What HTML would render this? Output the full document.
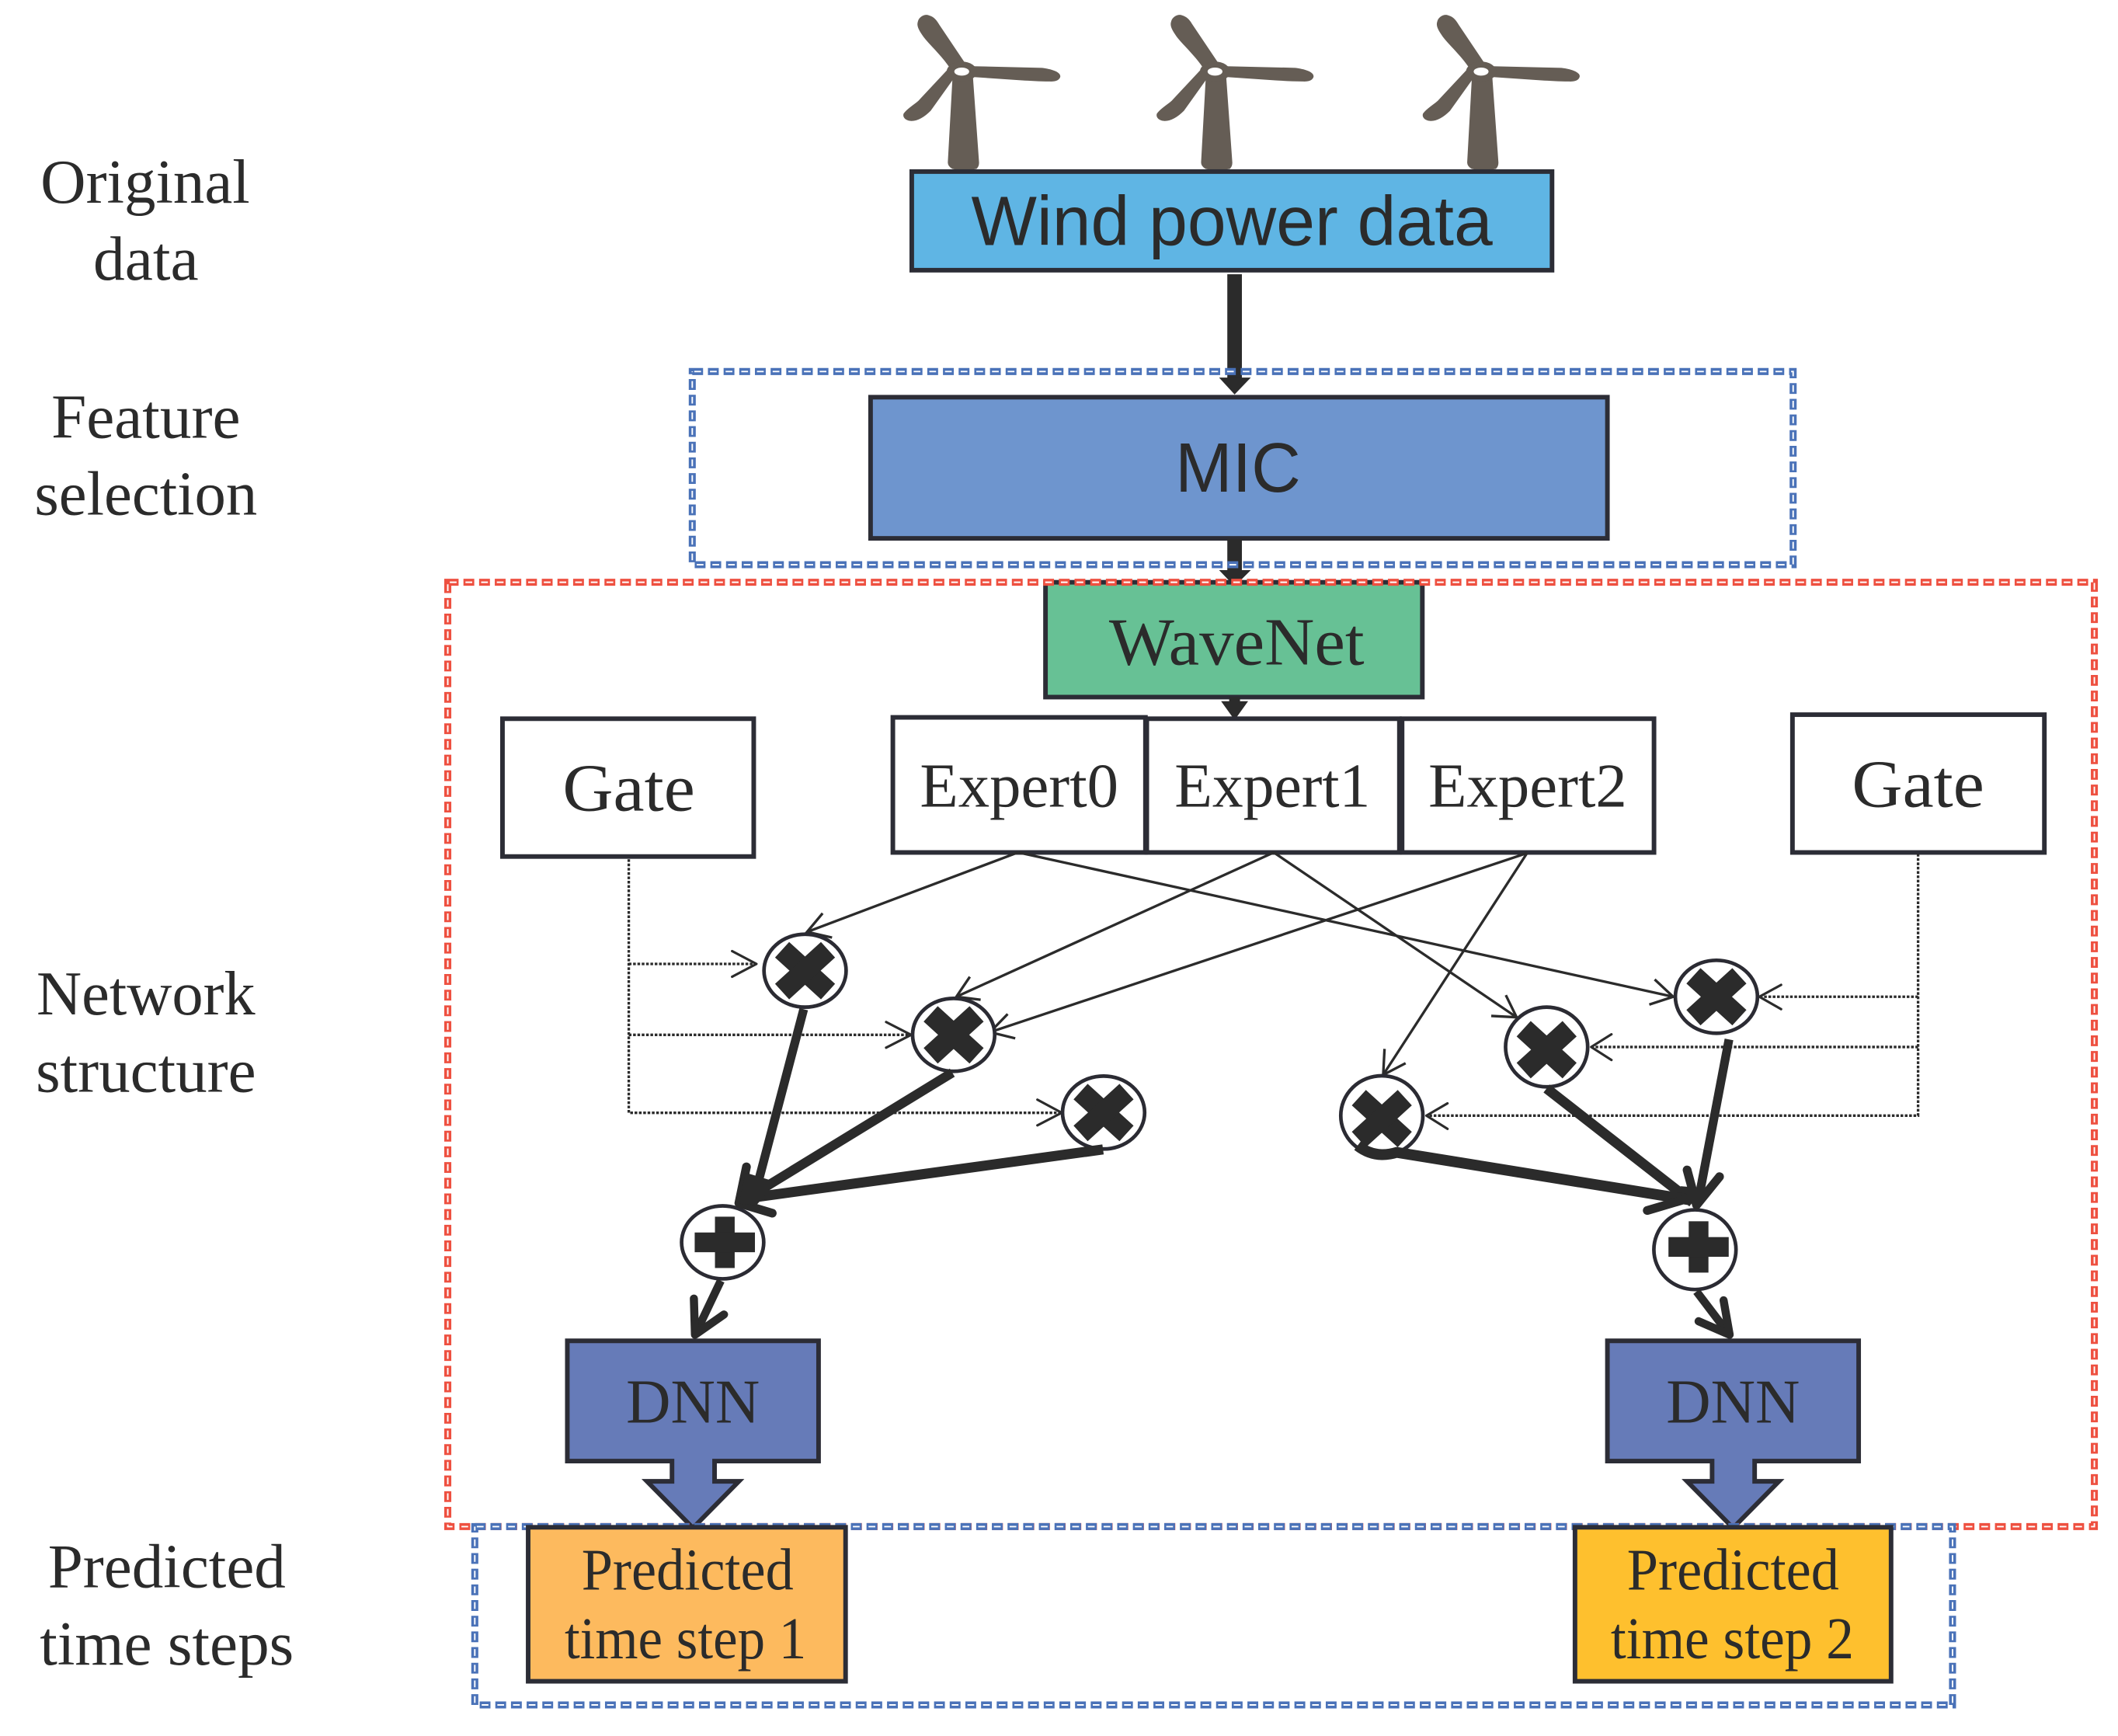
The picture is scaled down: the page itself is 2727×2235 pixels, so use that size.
<!DOCTYPE html>
<html><head><meta charset="utf-8"><style>
html,body{margin:0;padding:0;background:#fff}
svg{display:block}
.s{font-family:"Liberation Serif",serif;fill:#2b2b2b;text-anchor:middle}
.a{font-family:"Liberation Sans",sans-serif;fill:#2b2b2b;text-anchor:middle}
.b{stroke:#2c2d36;stroke-width:3.4}
.thin{stroke:#2b2b2b;stroke-width:1.9;fill:none}
.dot{stroke:#2b2b2b;stroke-width:1.9;fill:none;stroke-dasharray:2 1.2}
.th{stroke:#2b2b2b;fill:none;stroke-linecap:round;stroke-linejoin:round}
.c{fill:#fff;stroke:#2b2b33;stroke-width:2.7}
.x{stroke:#2b2b2b;stroke-width:15.5;stroke-linecap:butt}
</style></head><body>
<svg xmlns="http://www.w3.org/2000/svg" width="2727" height="2235" viewBox="0 0 1568 1285" preserveAspectRatio="none">
<defs>
<g id="t">
<path fill="#655d55" d="M-6.6,0 L-10.3,67 Q-10.500,70 -7,72 Q1,74 11,72 Q13,70 12.8,67 L8,0 Z"/>
<path fill="#655d55" d="M-9,-3 C-15,-12 -24,-20 -28.500,-26 C-32,-31 -33.500,-34 -32.500,-37 C-31.500,-41 -27,-43 -24,-41.500 C-20.500,-40.500 -18.500,-38 -16.500,-34.500 L3,-5.500 Z"/>
<path fill="#655d55" d="M8,-4 L59.400,-2.800 C66,-2 73,0 73,3.500 C72.500,7 68,7.500 64.900,7.300 C58,7.300 50,6.800 44.700,6.500 L8,4 Z"/>
<path fill="#655d55" d="M-5.500,4.500 L-23,29 C-28,34 -33.500,37 -38,36.500 C-42,36 -44,33.500 -43,31 C-40.500,27.500 -36,25 -32,21.500 L-11,-1 Z"/>
<ellipse rx="11.200" ry="7.400" fill="#655d55"/><ellipse rx="5.500" ry="3" fill="#fff"/>
</g>
<g id="mul"><line class="x" x1="-17" y1="-15.500" x2="17" y2="15.500"/><line class="x" x1="17" y1="-15.500" x2="-17" y2="15.500"/></g>
<g id="add"><rect x="-7.300" y="-19" width="14.600" height="38" fill="#2b2b2b"/><rect x="-22.300" y="-7.300" width="44.600" height="14.600" fill="#2b2b2b"/></g>
</defs>
<rect width="1568" height="1285" fill="#fff"/>

<use href="#t" x="712" y="53"/><use href="#t" x="899.500" y="53"/><use href="#t" x="1096.500" y="53"/>

<!-- boxes -->
<rect class="b" x="675" y="127" width="474" height="73" fill="#5fb5e4"/>
<text class="a" x="912" y="181.500" font-size="52" textLength="386" lengthAdjust="spacingAndGlyphs">Wind power data</text>
<rect x="908.600" y="203" width="10.800" height="77" fill="#2b2b2b"/>
<polygon points="902.500,279.500 926,279.500 914,292" fill="#2b2b2b"/>

<rect class="b" x="644.500" y="294" width="545.500" height="104.500" fill="#6e95ce"/>
<text class="a" x="916.500" y="364" font-size="52" textLength="93" lengthAdjust="spacingAndGlyphs">MIC</text>
<rect x="908.600" y="399" width="10.800" height="24" fill="#2b2b2b"/>
<polygon points="902.500,422 926,422 914,434" fill="#2b2b2b"/>

<rect class="b" x="774" y="431" width="279" height="85" fill="#67c195"/>
<text class="s" x="915.500" y="492" font-size="50" textLength="189" lengthAdjust="spacingAndGlyphs">WaveNet</text>
<rect x="910" y="516" width="8" height="6" fill="#2b2b2b"/>
<polygon points="904,519 924,519 914,533" fill="#2b2b2b"/>

<rect class="b" x="372" y="532" width="186" height="102" fill="#fff"/>
<text class="s" x="465.500" y="600" font-size="50" textLength="98" lengthAdjust="spacingAndGlyphs">Gate</text>
<rect class="b" x="661" y="531" width="187" height="100" fill="#fff"/>
<text class="s" x="754.500" y="597" font-size="46" textLength="147" lengthAdjust="spacingAndGlyphs">Expert0</text>
<rect class="b" x="849" y="532" width="187" height="99" fill="#fff"/>
<text class="s" x="942" y="597" font-size="46" textLength="145" lengthAdjust="spacingAndGlyphs">Expert1</text>
<rect class="b" x="1038" y="532" width="186.500" height="99" fill="#fff"/>
<text class="s" x="1131" y="597" font-size="46" textLength="147" lengthAdjust="spacingAndGlyphs">Expert2</text>
<rect class="b" x="1327" y="529" width="186.500" height="102" fill="#fff"/>
<text class="s" x="1420" y="597" font-size="50" textLength="98" lengthAdjust="spacingAndGlyphs">Gate</text>

<!-- dotted gate lines -->
<path class="dot" d="M465.500,636 V823.700 H786 M465.500,713.500 H560 M465.500,766 H674.500"/>
<path class="th" stroke-width="1.800" d="M542,704 L560,713.500 L542,723 M656,756.500 L674.500,766 L656,775.500 M768,814 L786,823.700 L768,833"/>
<path class="dot" d="M1420,632 V825.800 H1056 M1420,737.800 H1302.500 M1420,775 H1178"/>
<path class="th" stroke-width="1.800" d="M1318.600,729 L1302.500,737.800 L1318.600,747 M1193,765.600 L1178,775 L1193,784.600 M1071.600,816.700 L1056,825.800 L1071.600,835.600"/>

<!-- thin connections -->
<g class="thin">
<path d="M753.600,631 L597.500,689.800"/><path d="M609,676 L597.500,689.800 L616,694"/>
<path d="M754,631 L1238.700,737.800"/><path d="M1225,725 L1238.700,737.800 L1221,743.600"/>
<path d="M943,631 L708,737.800"/><path d="M718,723 L708,737.800 L726,740"/>
<path d="M943,631 L1122.800,753"/><path d="M1114.800,736.600 L1122.800,753 L1104,752"/>
<path d="M1130.500,631.500 L733,764"/><path d="M746,750.600 L733,764 L751.600,768.600"/>
<path d="M1130.500,631.500 L1024,795.600"/><path d="M1025,776.400 L1024,795.600 L1040.600,787"/>
</g>

<!-- circles -->
<ellipse class="c" cx="596" cy="718.500" rx="30.400" ry="27"/><use href="#mul" x="596" y="718.500"/>
<ellipse class="c" cx="706" cy="766" rx="30.400" ry="27"/><use href="#mul" x="706" y="766"/>
<ellipse class="c" cx="817" cy="823.500" rx="30.400" ry="27"/><use href="#mul" x="817" y="823.500"/>
<ellipse class="c" cx="1270.700" cy="737.800" rx="30.400" ry="27"/><use href="#mul" x="1270.700" y="737.800"/>
<ellipse class="c" cx="1145" cy="775" rx="30.400" ry="29.500"/><use href="#mul" x="1145" y="777"/>
<ellipse class="c" cx="1023" cy="825.800" rx="30.400" ry="29.500"/><use href="#mul" x="1023" y="828"/>
<ellipse class="c" cx="535" cy="919.600" rx="30.400" ry="27"/><use href="#add" x="536.600" y="919.600"/>
<ellipse class="c" cx="1254.800" cy="925" rx="30.400" ry="29.500"/><use href="#add" x="1257.500" y="923"/>

<!-- thick connections -->
<g class="th">
<path stroke-width="6.500" stroke-linecap="butt" d="M595,747 L560,880"/>
<path stroke-width="7" stroke-linecap="butt" d="M705,794 L553,887"/>
<path stroke-width="7.500" stroke-linecap="butt" d="M816.600,850.800 L553,887"/>
<path stroke-width="6.500" d="M552.600,863.700 L547,890.600 L571.700,898"/>
<polygon points="547,891 552,868 575,875 560,892" fill="#2b2b2b" stroke="none"/>
<path stroke-width="6.500" stroke-linecap="butt" d="M1280,769.400 L1258,885"/>
<path stroke-width="7.500" stroke-linecap="butt" d="M1145,805.700 L1253,890"/>
<path stroke-width="8" stroke-linecap="butt" d="M1005,848 Q1018,858 1034,853 L1250,888"/>
<path stroke-width="6.500" d="M1249,866 L1256,892 L1273,871"/>
<path stroke-width="6.500" d="M1219.500,896 L1250,887"/>
<polygon points="1256,893 1244,878 1268,880" fill="#2b2b2b" stroke="none"/>
<path stroke-width="6" stroke-linecap="butt" d="M533.600,948 L516,985"/>
<path stroke-width="6" d="M513.700,961.200 L514.500,988 L536,973"/>
<path stroke-width="6" stroke-linecap="butt" d="M1256,956 L1278,985"/>
<path stroke-width="6" d="M1276,962.500 L1280.500,988 L1257.500,978"/>
</g>

<!-- DNN -->
<path class="b" fill="#667bb8" d="M420,992.500 H606 V1081.500 H529 V1096.500 H547 L513,1131 L479,1096.500 H497.500 V1081.500 H420 Z"/>
<text class="s" x="513" y="1053" font-size="46" textLength="99" lengthAdjust="spacingAndGlyphs">DNN</text>
<path class="b" fill="#667bb8" d="M1190,992.500 H1376 V1081.500 H1299 V1096.500 H1317 L1283,1131 L1249,1096.500 H1267.500 V1081.500 H1190 Z"/>
<text class="s" x="1283" y="1053" font-size="46" textLength="99" lengthAdjust="spacingAndGlyphs">DNN</text>

<!-- dashed frames -->
<g fill="none">
<rect x="512.500" y="275" width="815" height="143" stroke="#4a72b8" stroke-width="5.200" stroke-dasharray="8 3.600"/>
<rect x="512.500" y="275" width="815" height="143" stroke="#fff" stroke-width="1.100" stroke-dasharray="5 6.600" stroke-dashoffset="-1.500"/>
<rect x="331.500" y="431" width="1219" height="699" stroke="#ee5040" stroke-width="5.200" stroke-dasharray="8 3.600"/>
<rect x="331.500" y="431" width="1219" height="699" stroke="#fff" stroke-width="1.100" stroke-dasharray="5 6.600" stroke-dashoffset="-1.500"/>
<rect x="351.500" y="1130" width="1094" height="132" stroke="#4a72b8" stroke-width="5.200" stroke-dasharray="8 3.600"/>
<rect x="351.500" y="1130" width="1094" height="132" stroke="#fff" stroke-width="1.100" stroke-dasharray="5 6.600" stroke-dashoffset="-1.500"/>
</g>

<!-- predicted -->
<rect class="b" x="391" y="1130.500" width="235" height="114" fill="#fdba5e"/>
<text class="s" x="509" y="1176.500" font-size="44" textLength="157" lengthAdjust="spacingAndGlyphs">Predicted</text>
<text class="s" x="507.500" y="1227.500" font-size="44" textLength="179" lengthAdjust="spacingAndGlyphs">time step 1</text>
<rect class="b" x="1166" y="1130.500" width="234" height="114" fill="#fec02e"/>
<text class="s" x="1283" y="1176.500" font-size="44" textLength="157" lengthAdjust="spacingAndGlyphs">Predicted</text>
<text class="s" x="1282.500" y="1227.500" font-size="44" textLength="180" lengthAdjust="spacingAndGlyphs">time step 2</text>

<!-- left labels -->
<g class="s" font-size="46">
<text x="107.500" y="150" textLength="155" lengthAdjust="spacingAndGlyphs">Original</text>
<text x="108" y="207" textLength="78" lengthAdjust="spacingAndGlyphs">data</text>
<text x="108" y="324" textLength="140" lengthAdjust="spacingAndGlyphs">Feature</text>
<text x="108" y="381" textLength="165" lengthAdjust="spacingAndGlyphs">selection</text>
<text x="108" y="751" textLength="162" lengthAdjust="spacingAndGlyphs">Network</text>
<text x="108" y="808" textLength="163" lengthAdjust="spacingAndGlyphs">structure</text>
<text x="123.500" y="1175" textLength="176" lengthAdjust="spacingAndGlyphs">Predicted</text>
<text x="123.500" y="1232" textLength="188" lengthAdjust="spacingAndGlyphs">time steps</text>
</g>
</svg>
</body></html>
